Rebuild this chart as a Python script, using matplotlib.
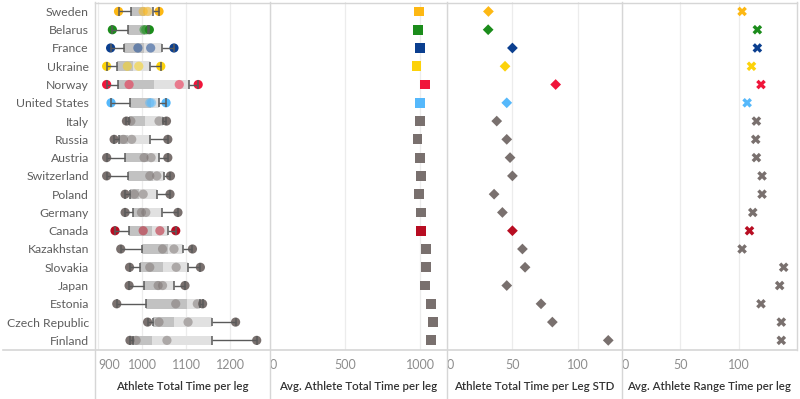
import numpy as np
import matplotlib
matplotlib.use("Agg")
import matplotlib.pyplot as plt
from matplotlib.lines import Line2D

plt.rcParams['font.family'] = ['Lato', 'DejaVu Sans']

countries = ["Sweden", "Belarus", "France", "Ukraine", "Norway", "United States",
             "Italy", "Russia", "Austria", "Switzerland", "Poland", "Germany",
             "Canada", "Kazakhstan", "Slovakia", "Japan", "Estonia",
             "Czech Republic", "Finland"]

# four leg times per country (sorted)
leg_1 = [946, 932, 928, 919, 919, 929, 964, 936, 919, 919, 961, 961, 938, 951, 971, 970, 942, 1012, 972]
leg_2 = [1002, 1004, 990, 966, 970, 1017, 974, 957, 1004, 1017, 982, 998, 1002, 1046, 1017, 1036, 1076, 1038, 986]
leg_3 = [1012, 1008, 1019, 992, 1084, 1021, 1038, 976, 1020, 1033, 1002, 1008, 1040, 1072, 1077, 1046, 1125, 1104, 1056]
leg_4 = [1038, 1016, 1072, 1042, 1127, 1054, 1055, 1058, 1058, 1064, 1063, 1081, 1076, 1114, 1132, 1097, 1137, 1212, 1260]

avg_time = [994, 987, 1000, 976, 1031, 1000, 1000, 983, 1000, 1007, 994, 1007, 1005,
            1042, 1042, 1031, 1073, 1084, 1073]
std_time = [31.8, 31.6, 50.0, 44.4, 82.8, 45.7, 38.1, 45.7, 48.2, 50.0, 36.1, 42.4, 50.0,
            57.6, 59.6, 45.7, 71.7, 80.3, 122.7]
avg_range = [102.5, 115.5, 115.5, 110.5, 118.6, 106.8, 114.7, 114.1, 114.7, 119.5, 119.5,
             111.6, 108.8, 102.5, 137.9, 134.5, 118.6, 135.9, 135.9]

GRAY = "#79706e"
country_colors = ["#fdb813", "#1b8c1b", "#0b3f8f", "#fcd20a", "#f0153a", "#55b8fb",
                  GRAY, GRAY, GRAY, GRAY, GRAY, GRAY, "#b80d22",
                  GRAY, GRAY, GRAY, GRAY, GRAY, GRAY]

axis_titles = ["Athlete Total Time per leg", "Avg. Athlete Total Time per leg",
               "Athlete Total Time per Leg STD", "Avg. Athlete Range Time per leg"]

W, H = 800, 399
fig = plt.figure(figsize=(W / 100, H / 100), dpi=100)

top_px, bot_px = 2.3, 349.5
edges = [94.5, 270.0, 446.5, 621.7, 796.7]
axes = []
for i in range(4):
    ax = fig.add_axes([edges[i] / W, (H - bot_px) / H,
                       (edges[i + 1] - edges[i]) / W, (bot_px - top_px) / H])
    axes.append(ax)

n = len(countries)
y = np.arange(n)
legs = np.array([leg_1, leg_2, leg_3, leg_4], dtype=float).T

SEP = "#d6d6d6"
GRID = "#ececec"
TICKC = "#8d8d8d"

xlims = [(891.4, 1290.2), (0, 1176), (0, 132.9), (0, 149)]
xticks = [[900, 1000, 1100, 1200], [0, 500, 1000], [0, 50, 100], [0, 50, 100]]

for i, ax in enumerate(axes):
    ax.set_xlim(*xlims[i])
    ax.set_ylim(n - 0.5, -0.5)
    for s in ax.spines.values():
        s.set_visible(False)
    ax.set_xticks(xticks[i])
    ax.set_xticklabels([str(t) for t in xticks[i]])
    ax.tick_params(axis='x', length=0, pad=6.5, labelsize=9, labelcolor=TICKC)
    ax.get_xticklabels()[0].set_ha('left')
    ax.grid(axis='x', color=GRID, linewidth=0.9, zorder=0)
    ax.set_axisbelow(True)
    if i == 0:
        ax.set_yticks(y)
        ax.set_yticklabels(countries)
        ax.tick_params(axis='y', length=0, pad=4, labelsize=8.8, labelcolor="#5e5e5e")
    else:
        ax.set_yticks([])
    # separator line on the left of each pane, down to figure bottom
    ax.plot([0, 0], [-(H - bot_px) / (bot_px - top_px), 1], transform=ax.transAxes,
            color=SEP, linewidth=1.0, clip_on=False, zorder=5)
    ax.text(0.5, -36.5 / (bot_px - top_px), axis_titles[i], transform=ax.transAxes,
            ha='center', va='center', fontsize=8.3, fontweight='semibold', color="#333333")

# right border of plot area
axes[3].plot([1, 1], [0, 1], transform=axes[3].transAxes, color=SEP, linewidth=1.0,
             clip_on=False, zorder=5)

# bottom axis line and top border across figure
fig.add_artist(Line2D([3 / W, edges[4] / W], [(H - bot_px) / H] * 2, color=SEP, linewidth=1.2))
fig.add_artist(Line2D([edges[0] / W, edges[4] / W], [(H - 2.7) / H] * 2, color=SEP, linewidth=1.0))

# Panel 1: box plots with dots
ax = axes[0]
q1 = np.percentile(legs, 25, axis=1, method='midpoint')
med = np.percentile(legs, 50, axis=1, method='midpoint')
q3 = np.percentile(legs, 75, axis=1, method='midpoint')
bh = 0.53
ax.barh(y, med - q1, left=q1, height=bh, color="#c2c2c2", zorder=1)
ax.barh(y, q3 - med, left=med, height=bh, color="#e1e1e1", zorder=1)
mins = legs.min(axis=1)
maxs = legs.max(axis=1)
ax.scatter(legs[:, 1], y, s=44, c=country_colors, alpha=0.5, linewidths=0, zorder=2)
ax.scatter(legs[:, 2], y, s=44, c=country_colors, alpha=0.5, linewidths=0, zorder=2)
ax.scatter(mins, y, s=44, c=country_colors, linewidths=0, zorder=2)
ax.scatter(maxs, y, s=44, c=country_colors, linewidths=0, zorder=2)
WH = "#5a5a5a"
ax.hlines(y, mins, q1, color=WH, linewidth=1.0, zorder=3)
ax.hlines(y, q3, maxs, color=WH, linewidth=1.0, zorder=3)
ch = 0.24
for xs in (mins, q1, q3, maxs):
    ax.vlines(xs, y - ch, y + ch, color=WH, linewidth=1.1, zorder=3)

# Panel 2: squares
axes[1].scatter(avg_time, y, marker='s', s=50, c=country_colors, linewidths=0, zorder=3)
# Panel 3: diamonds
axes[2].scatter(std_time, y, marker='D', s=30, c=country_colors, linewidths=0, zorder=3)
# Panel 4: crosses
axes[3].scatter(avg_range, y, marker='X', s=48, c=country_colors, linewidths=0, zorder=3)

fig.savefig("out.png", dpi=100)
